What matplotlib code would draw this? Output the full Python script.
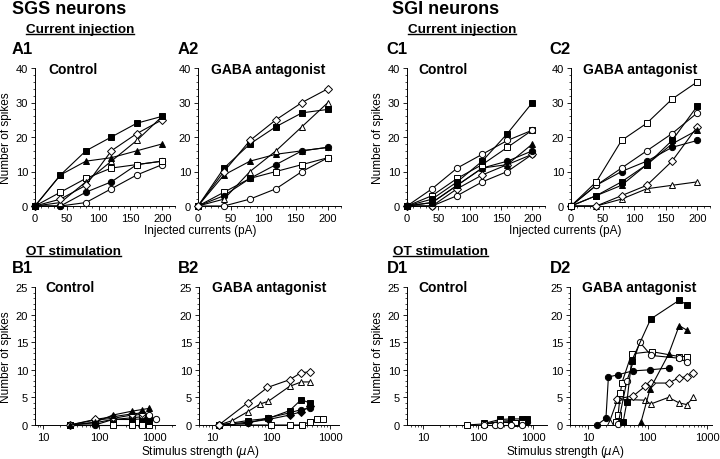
import matplotlib
matplotlib.use('Agg')
import matplotlib.pyplot as plt
from matplotlib.ticker import FixedLocator, MultipleLocator, NullFormatter, LogLocator, FixedFormatter
from matplotlib.lines import Line2D

plt.rcParams['font.family'] = ['Liberation Sans', 'DejaVu Sans']

# ---------------- data ----------------
current_x = [0, 40, 80, 120, 160, 200]

# A1: SGS control, current injection
a1_fsq = [0, 9, 16, 20, 24, 26]
a1_ftri = [0, 9, 13, 14, 16, 18]
a1_odia = [0, 2, 6, 16, 21, 25]
a1_otri = [0, 1, 7, 13, 19, 26]
a1_osq = [0, 4, 8, 11, 12, 13]
a1_fcir = [0, 0, 4, 7, 12, 13]
a1_ocir = [0, 0, 1, 5, 9, 12]

# A2: SGS GABA antagonist, current injection
a2_odia = [0, 10, 19, 25, 30, 34]
a2_fsq = [0, 11, 18, 23, 27, 28]
a2_otri = [0, 2, 10, 16, 23, 30]
a2_ftri = [0, 9, 13, 15, 16, 17]
a2_fcir = [0, 3, 8, 12, 16, 17]
a2_osq = [0, 4, 8, 10, 12, 14]
a2_ocir = [0, 0, 2, 5, 10, 14]

# C1: SGI control, current injection
c1_fsq = [0, 2, 7, 13, 21, 30]
c1_ocir = [0, 5, 11, 15, 19, 22]
c1_osq = [0, 3, 8, 12, 17, 22]
c1_ftri = [0, 1, 6, 11, 12, 18]
c1_fcir = [0, 1, 6, 11, 13, 16]
c1_odia = [0, 0, 5, 9, 12, 15]
c1_ocir2 = [0, 0, 3, 7, 10, 15]

# C2: SGI GABA antagonist, current injection
c2_osq = [0, 7, 19, 24, 31, 36]
c2_fsq = [0, 3, 7, 12, 19, 29]
c2_ocir = [0, 6, 11, 16, 21, 27]
c2_odia = [0, 0, 3, 6, 13, 23]
c2_ftri = [0, 3, 6, 12, 18, 22]
c2_fcir = [0, 6, 10, 13, 17, 19]
c2_otri = [0, 0, 2, 5, 6, 7]

# B1: SGS control, OT stimulation
b1_ftri_x = [30, 85, 178, 388, 590, 780]
b1_ftri_y = [0, 0.5, 1.8, 2.5, 2.8, 3.0]
b1_odia_x = [30, 85, 178, 388, 590]
b1_odia_y = [0, 1.0, 1.5, 2.0, 2.2]
b1_ocir_x = [30, 85, 178, 388, 590, 780, 1040]
b1_ocir_y = [0, 0.9, 1.2, 1.8, 1.9, 1.8, 1.0]
b1_fcir_x = [30, 85, 178, 388, 590, 780]
b1_fcir_y = [0, 0, 1.0, 1.3, 1.5, 1.4]
b1_fsq_x = [30, 85, 178, 388, 590, 780]
b1_fsq_y = [0, 0.4, 1.0, 1.0, 1.1, 0.8]
b1_osq_x = [30, 178, 388, 590, 780]
b1_osq_y = [0, 0, 0, 0, 0]

# B2: SGS GABA antagonist, OT stimulation
b2_odia_x = [13, 40, 87, 206, 325, 450]
b2_odia_y = [0, 4.0, 6.8, 8.2, 9.5, 9.6]
b2_otri_x = [13, 22, 40, 65, 90, 206, 325, 450]
b2_otri_y = [0, 0.8, 2.4, 3.8, 4.3, 7.0, 7.8, 7.8]
b2_fsq_x = [13, 40, 90, 206, 325, 450]
b2_fsq_y = [0, 0.8, 1.2, 2.6, 4.6, 4.0]
b2_fcir_x = [13, 40, 90, 206, 325, 450]
b2_fcir_y = [0, 0.3, 1.3, 2.2, 2.8, 3.0]
b2_fdia_x = [13, 40, 90, 206, 325, 450]
b2_fdia_y = [0, 0.5, 1.0, 1.8, 2.4, 3.4]
b2_osq_x = [13, 100, 210, 330, 457, 590, 755]
b2_osq_y = [0, 0, 0, 0, 0.6, 1.0, 1.0]

# D1: SGI control, OT stimulation
d1_osq_x = [62, 130, 250, 470, 620]
d1_osq_y = [0, 0.2, 0.5, 0.4, 0.3]
d1_fsq_x = [130, 250, 400, 620, 770]
d1_fsq_y = [0.3, 1.0, 1.1, 1.1, 1.1]
d1_fsq2_x = [130, 250, 400, 620]
d1_fsq2_y = [0.1, 0.7, 0.8, 0.8]
d1_ocir_x = [130, 205, 250, 400, 620]
d1_ocir_y = [0, 0, 0, 0, 0]
d1_fcir_x = [130, 250, 400, 620, 770]
d1_fcir_y = [0.2, 0.5, 0.6, 0.6, 0.5]

# D2: SGI GABA antagonist, OT stimulation
d2_fsq_x = [39, 45, 54, 113, 340, 455]
d2_fsq_y = [0.6, 4.2, 11.6, 19.2, 22.6, 21.8]
d2_ftri_x = [78, 110, 225, 340, 455]
d2_ftri_y = [0.6, 6.5, 12.8, 18.0, 17.2]
d2_ocir_x = [32, 45, 74, 115, 340, 455]
d2_ocir_y = [0.2, 8.0, 15.0, 12.6, 12.1, 11.4]
d2_osq_x = [30, 32, 35, 37, 54, 117, 340, 455]
d2_osq_y = [0.6, 1.8, 5.8, 7.6, 12.9, 13.3, 12.4, 12.4]
d2_fcir_x = [14, 20, 22, 32, 56, 110, 225]
d2_fcir_y = [0, 1.2, 8.7, 9.1, 9.8, 10.0, 10.3]
d2_odia_x = [31, 58, 91, 113, 225, 340, 455, 590]
d2_odia_y = [4.7, 5.3, 7.0, 7.6, 7.6, 8.6, 8.7, 9.5]
d2_otri_x = [23, 31, 45, 91, 113, 225, 340, 455, 590]
d2_otri_y = [0.6, 4.5, 4.6, 4.5, 3.8, 5.0, 4.0, 3.7, 5.0]

log_ticks = [10, 100, 1000]
log_tick_labels = ['10', '100', '1000']

# ---------------- figure ----------------
W, H = 720, 460
fig = plt.figure(figsize=(W / 100, H / 100), dpi=100)


def rect(l, t, w, h):
    return [l / W, 1 - (t + h) / H, w / W, h / H]


STY = {
    'fsq': dict(marker='s', mfc='black', ms=4.2),
    'osq': dict(marker='s', mfc='white', ms=4.2),
    'fcir': dict(marker='o', mfc='black', ms=4.5),
    'ocir': dict(marker='o', mfc='white', ms=4.5),
    'ftri': dict(marker='^', mfc='black', ms=4.6),
    'otri': dict(marker='^', mfc='white', ms=4.6),
    'odia': dict(marker='D', mfc='white', ms=3.6),
    'fdia': dict(marker='D', mfc='black', ms=3.6),
}


def draw(ax, x, y, kind):
    st = STY[kind]
    ax.plot(x, y, color='black', lw=0.8, marker=st['marker'], ms=st['ms'],
            mfc=st['mfc'], mec='black', mew=0.7, clip_on=False, zorder=3)


def style(ax):
    for s in ['top', 'right']:
        ax.spines[s].set_visible(False)
    for s in ['left', 'bottom']:
        ax.spines[s].set_linewidth(0.7)
    ax.tick_params(which='major', length=3, width=0.6, labelsize=8, pad=2)
    ax.tick_params(which='minor', length=1.5, width=0.5)


def current_axes(l, w):
    ax = fig.add_axes(rect(l, 69, w, 138))
    ax.set_xlim(0, 220)
    ax.set_ylim(0, 40)
    ax.xaxis.set_major_locator(FixedLocator([0, 50, 100, 150, 200]))
    ax.xaxis.set_minor_locator(MultipleLocator(10))
    ax.yaxis.set_major_locator(FixedLocator([0, 10, 20, 30, 40]))
    ax.yaxis.set_minor_locator(MultipleLocator(2))
    style(ax)
    return ax


def stim_axes(l, w, xmin, xmax):
    ax = fig.add_axes(rect(l, 288, w, 138))
    ax.set_xscale('log')
    ax.set_xlim(xmin, xmax)
    ax.set_ylim(0, 25)
    ax.xaxis.set_major_locator(FixedLocator(log_ticks))
    ax.xaxis.set_major_formatter(FixedFormatter(log_tick_labels))
    ax.xaxis.set_minor_locator(LogLocator(base=10, subs=range(2, 10)))
    ax.xaxis.set_minor_formatter(NullFormatter())
    ax.yaxis.set_major_locator(FixedLocator([0, 5, 10, 15, 20, 25]))
    ax.yaxis.set_minor_locator(MultipleLocator(1))
    style(ax)
    return ax


# A1
ax = current_axes(35, 140)
for y, k in [(a1_ocir, 'ocir'), (a1_fcir, 'fcir'), (a1_osq, 'osq'), (a1_otri, 'otri'),
             (a1_odia, 'odia'), (a1_ftri, 'ftri'), (a1_fsq, 'fsq')]:
    draw(ax, current_x, y, k)
ax.set_ylabel('Number of spikes', fontsize=8.5, labelpad=3)

# A2
ax = current_axes(198, 143)
for y, k in [(a2_ocir, 'ocir'), (a2_osq, 'osq'), (a2_fcir, 'fcir'), (a2_ftri, 'ftri'),
             (a2_otri, 'otri'), (a2_fsq, 'fsq'), (a2_odia, 'odia')]:
    draw(ax, current_x, y, k)

# C1
ax = current_axes(407, 138)
for y, k in [(c1_ocir2, 'ocir'), (c1_odia, 'odia'), (c1_fcir, 'fcir'), (c1_ftri, 'ftri'),
             (c1_osq, 'osq'), (c1_ocir, 'ocir'), (c1_fsq, 'fsq')]:
    draw(ax, current_x, y, k)
ax.set_ylabel('Number of spikes', fontsize=8.5, labelpad=3)

# C2
ax = current_axes(571, 139)
for y, k in [(c2_otri, 'otri'), (c2_odia, 'odia'), (c2_fcir, 'fcir'), (c2_ftri, 'ftri'),
             (c2_ocir, 'ocir'), (c2_fsq, 'fsq'), (c2_osq, 'osq')]:
    draw(ax, current_x, y, k)

# B1
ax = stim_axes(35, 140, 7.2, 2300)
for x, y, k in [(b1_osq_x, b1_osq_y, 'osq'), (b1_fsq_x, b1_fsq_y, 'fsq'),
                (b1_fcir_x, b1_fcir_y, 'fcir'), (b1_ocir_x, b1_ocir_y, 'ocir'),
                (b1_odia_x, b1_odia_y, 'odia'), (b1_ftri_x, b1_ftri_y, 'ftri')]:
    draw(ax, x, y, k)
ax.set_ylabel('Number of spikes', fontsize=8.5, labelpad=3)

# B2
ax = stim_axes(199, 140, 6.0, 1420)
for x, y, k in [(b2_osq_x, b2_osq_y, 'osq'), (b2_fdia_x, b2_fdia_y, 'fdia'),
                (b2_fcir_x, b2_fcir_y, 'fcir'), (b2_fsq_x, b2_fsq_y, 'fsq'),
                (b2_otri_x, b2_otri_y, 'otri'), (b2_odia_x, b2_odia_y, 'odia')]:
    draw(ax, x, y, k)

# D1
ax = stim_axes(407, 140, 5.1, 1790)
for x, y, k in [(d1_fcir_x, d1_fcir_y, 'fcir'), (d1_fsq2_x, d1_fsq2_y, 'fsq'),
                (d1_fsq_x, d1_fsq_y, 'fsq'), (d1_osq_x, d1_osq_y, 'osq'),
                (d1_ocir_x, d1_ocir_y, 'ocir')]:
    draw(ax, x, y, k)
ax.set_ylabel('Number of spikes', fontsize=8.5, labelpad=3)

# D2
ax = stim_axes(570, 142, 4.98, 1210)
for x, y, k in [(d2_otri_x, d2_otri_y, 'otri'), (d2_odia_x, d2_odia_y, 'odia'),
                (d2_fcir_x, d2_fcir_y, 'fcir'), (d2_osq_x, d2_osq_y, 'osq'),
                (d2_ocir_x, d2_ocir_y, 'ocir'), (d2_ftri_x, d2_ftri_y, 'ftri'),
                (d2_fsq_x, d2_fsq_y, 'fsq')]:
    draw(ax, x, y, k)


# ---------------- texts ----------------
def ftext(x, y, s, **kw):
    return fig.text(x / W, 1 - y / H, s, **kw)


ftext(12, 10, 'SGS neurons', fontsize=13, fontweight='bold', va='center')
ftext(392, 10, 'SGI neurons', fontsize=13, fontweight='bold', va='center')

underlined = []
underlined.append(ftext(26, 30, 'Current injection', fontsize=9.7, fontweight='bold', va='center'))
underlined.append(ftext(408, 30, 'Current injection', fontsize=9.7, fontweight='bold', va='center'))
underlined.append(ftext(26, 252, 'OT stimulation', fontsize=9.7, fontweight='bold', va='center'))
underlined.append(ftext(393, 252, 'OT stimulation', fontsize=9.7, fontweight='bold', va='center'))

for x, y, s in [(12, 50, 'A1'), (178, 50, 'A2'), (386, 50, 'C1'), (549, 50, 'C2'),
                (12, 269, 'B1'), (178, 269, 'B2'), (387, 269, 'D1'), (550, 269, 'D2')]:
    ftext(x, y, s, fontsize=12, fontweight='bold', va='center')

for x, y, s in [(48, 70, 'Control'), (211, 70, 'GABA antagonist'),
                (418, 70, 'Control'), (583, 70, 'GABA antagonist'),
                (45, 288, 'Control'), (212, 288, 'GABA antagonist'),
                (418, 288, 'Control'), (582, 288, 'GABA antagonist')]:
    ftext(x, y, s, fontsize=10, fontweight='bold', va='center')

ftext(200, 231, 'Injected currents (pA)', fontsize=8.5, ha='center', va='center')
ftext(565, 231, 'Injected currents (pA)', fontsize=8.5, ha='center', va='center')
ftext(200, 452, 'Stimulus strength ($\\mu$A)', fontsize=8.5, ha='center', va='center')
ftext(565, 452, 'Stimulus strength ($\\mu$A)', fontsize=8.5, ha='center', va='center')

fig.canvas.draw()
inv = fig.transFigure.inverted()
for t in underlined:
    bb = t.get_window_extent().transformed(inv)
    fig.add_artist(Line2D([bb.x0, bb.x1], [bb.y0 + 0.002, bb.y0 + 0.002],
                          transform=fig.transFigure, color='black', lw=1.0))

fig.savefig('out.png', dpi=100)
